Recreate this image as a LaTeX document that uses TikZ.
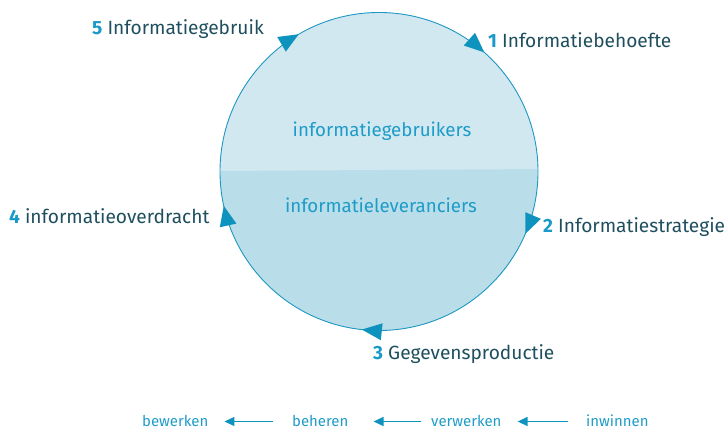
\documentclass[tikz,border=0pt]{standalone}
\usepackage{fontspec}
\setmainfont{Fira Sans}
\usetikzlibrary{calc,arrows.meta}
\definecolor{lineC}{HTML}{1E98C2}
\definecolor{arrC}{HTML}{0E93BE}
\definecolor{topC}{HTML}{D2E8F1}
\definecolor{botC}{HTML}{B9DEE9}
\definecolor{numC}{HTML}{1A9AC8}
\definecolor{txtC}{HTML}{1F4F5E}
\definecolor{innC}{HTML}{1E9CC8}
\newcommand\stepnum[1]{{\bfseries\color{numC}#1}}
\newcommand\cwarrow[1]{%
  \fill[arrC] ($(circ.center)+(#1:159)$)
    -- ($(circ.center)+(#1:159)+(#1+90:20)+(#1:8.5)$)
    -- ($(circ.center)+(#1:159)+(#1+90:20)+(#1:-8.5)$) -- cycle;}
\tikzset{
  lab/.style={anchor=base west, inner sep=0pt, text=txtC, font=\fontsize{19.2}{22}\selectfont},
  inlab/.style={anchor=base, inner sep=0pt, text=innC, font=\fontsize{18.8}{22}\selectfont},
  botlab/.style={anchor=base west, inner sep=0pt, text=innC, font=\fontsize{15}{18}\selectfont},
  barrow/.style={draw=arrC, line width=1.4bp, -{Triangle[length=10bp,width=9bp]}}
}
\begin{document}
\begin{tikzpicture}[x=1bp,y=1bp]
\useasboundingbox (0,0) rectangle (727,429);
\coordinate (C) at (379,257.5);
\begin{scope}
  \clip (C) circle (159);
  \fill[topC] (C) circle (159);
  \fill[botC] (200,257.9) -- (560,260.1) -- (560,90) -- (200,90) -- cycle;
\end{scope}
\node[circle, draw=lineC, line width=0.9bp, minimum size=318bp, inner sep=0pt] (circ) at (C) {};
\cwarrow{48.5}
\cwarrow{-23.1}
\cwarrow{-96.2}
\cwarrow{192.5}
\cwarrow{120.3}
\node[lab] (l5) at (92,394) {\stepnum{5} Informatiegebruik};
\node[lab] (l1) at (488,382) {\stepnum{1} Informatiebehoefte};
\node[lab] (l2) at (543,197) {\stepnum{2} Informatiestrategie};
\node[lab] (l4) at (9,206) {\stepnum{4} informatieoverdracht};
\node[lab] (l3) at (373,70) {\stepnum{3} Gegevensproductie};
\node[inlab] (ig) at (382,293) {informatiegebruikers};
\node[inlab] (il) at (381,217) {informatieleveranciers};
\node[botlab] (bw) at (142,3) {bewerken};
\node[botlab] (bh) at (292,3) {beheren};
\node[botlab] (vw) at (431,3) {verwerken};
\node[botlab] (iw) at (586,3) {inwinnen};
\draw[barrow] ($(bh.base west)+(-19,4.5)$) -- ($(bw.base east)+(16,4.5)$);
\draw[barrow] ($(vw.base west)+(-10,4.5)$) -- ($(bh.base east)+(25,4.5)$);
\draw[barrow] ($(iw.base west)+(-18,4.5)$) -- ($(vw.base east)+(16,4.5)$);
\end{tikzpicture}
\end{document}
